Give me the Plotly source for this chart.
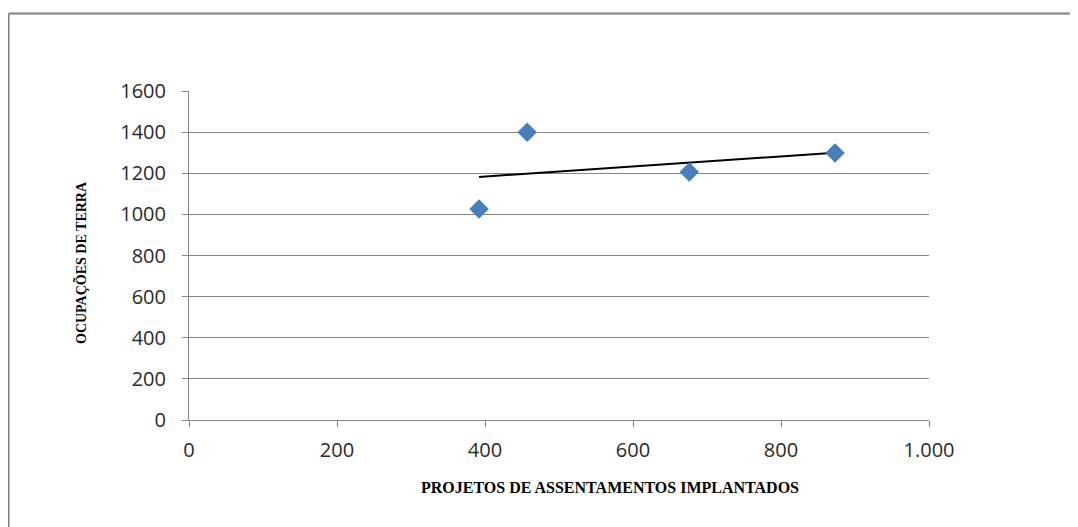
import numpy as np
import plotly.graph_objects as go

# Data
projetos = [392, 457, 676, 873]          # Projetos de assentamentos implantados
ocupacoes = [1026, 1400, 1206, 1299]     # Ocupações de terra

x_tickvals = [0, 200, 400, 600, 800, 1000]
x_ticktext = ["0", "200", "400", "600", "800", "1.000"]
y_tickvals = [0, 200, 400, 600, 800, 1000, 1200, 1400, 1600]

x_title = "PROJETOS DE ASSENTAMENTOS IMPLANTADOS"
y_title = "OCUPAÇÕES DE TERRA"

# Linear trend line (least squares) over the data range
slope, intercept = np.polyfit(projetos, ocupacoes, 1)
trend_x = [min(projetos), max(projetos)]
trend_y = [slope * v + intercept for v in trend_x]

# The page body has an 8px margin, so the figure is offset by 8px.
OFF = 8
W, H = 1078 - OFF, 527 - OFF
L, R, T, B = 189 - OFF, 149, 91 - OFF, 107
pw, ph = W - L - R, H - T - B

def px_to_paper_x(px):  # px in screenshot coordinates
    return (px - OFF - L) / pw

def px_to_paper_y(py):
    return (H - B - (py - OFF)) / ph

fig = go.Figure()
fig.add_trace(go.Scatter(
    x=trend_x, y=trend_y, mode="lines",
    line=dict(color="black", width=2), showlegend=False, hoverinfo="skip"))
fig.add_trace(go.Scatter(
    x=projetos, y=ocupacoes, mode="markers",
    marker=dict(symbol="diamond", size=15, color="#4A7EBB",
                line=dict(width=0)),
    showlegend=False))

grid = "#868686"
tickfont = dict(family="Open Sans", size=20, color="#2b2b2b")

fig.update_xaxes(
    range=[0, 1000], tickvals=x_tickvals, ticktext=x_ticktext,
    showgrid=False, zeroline=False, showline=True, linecolor=grid, linewidth=1,
    ticks="outside", ticklen=6, tickcolor=grid, tickwidth=1,
    tickfont=tickfont, ticklabelstandoff=6)
fig.update_yaxes(
    range=[0, 1600], tickvals=y_tickvals,
    showgrid=True, gridcolor=grid, gridwidth=1, zeroline=False,
    showline=True, linecolor=grid, linewidth=1,
    ticks="outside", ticklen=6, tickcolor=grid, tickwidth=1,
    tickfont=tickfont, ticklabelstandoff=12)

fig.add_annotation(
    text=x_title, xref="paper", yref="paper",
    x=px_to_paper_x(610), y=px_to_paper_y(487),
    showarrow=False,
    font=dict(family="Liberation Serif", size=16, color="black", weight="bold"),
    xanchor="center", yanchor="middle")
fig.add_annotation(
    text=y_title, xref="paper", yref="paper",
    x=px_to_paper_x(80), y=px_to_paper_y(263),
    showarrow=False,
    font=dict(family="Liberation Serif", size=14, color="black", weight="bold"),
    textangle=-90, xanchor="center", yanchor="middle")

# Outer chart-area frame (top and left edges visible)
fig.add_shape(type="line", xref="paper", yref="paper",
              x0=px_to_paper_x(8.75), x1=px_to_paper_x(1090),
              y0=px_to_paper_y(13.5), y1=px_to_paper_y(13.5),
              line=dict(color="#808080", width=2))
fig.add_shape(type="line", xref="paper", yref="paper",
              x0=px_to_paper_x(8.75), x1=px_to_paper_x(8.75),
              y0=px_to_paper_y(13.5), y1=px_to_paper_y(540),
              line=dict(color="#808080", width=1.5))

fig.update_layout(
    width=W, height=H,
    margin=dict(l=L, r=R, t=T, b=B),
    paper_bgcolor="white", plot_bgcolor="white",
    showlegend=False)

fig.write_html("out.html")
